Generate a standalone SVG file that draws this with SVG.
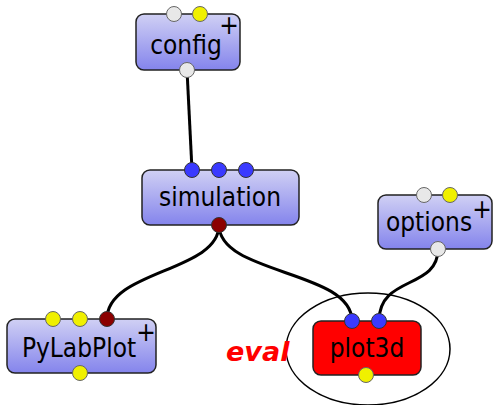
<svg xmlns="http://www.w3.org/2000/svg" width="493" height="405" viewBox="0 0 493 405">
<defs>
<linearGradient id="g" x1="0" y1="0" x2="0" y2="1">
<stop offset="0" stop-color="#d0d0f4"/>
<stop offset="1" stop-color="#8484ec"/>
</linearGradient>
<style>
.box{fill:url(#g);stroke:#222;stroke-width:1.5}
.red{fill:#ff0000;stroke:#222;stroke-width:1.5}
.lbl{font-family:"DejaVu Sans Condensed","DejaVu Sans",sans-serif;font-stretch:condensed;font-size:26px;fill:#000;text-anchor:middle}
.plus{font-family:"DejaVu Sans Condensed","DejaVu Sans",sans-serif;font-stretch:condensed;font-size:26px;fill:#000;text-anchor:middle}
.pg{fill:#e8e8e8;stroke:#666;stroke-width:1}
.py{fill:#f0f000;stroke:#666;stroke-width:1}
.pb{fill:#3a3aff;stroke:#333;stroke-width:1}
.pr{fill:#8b0000;stroke:#333;stroke-width:1}
.wire{fill:none;stroke:#000;stroke-width:3}
</style>
</defs>
<rect width="493" height="405" fill="#fff"/>
<g id="connectors">
<path class="wire" d="M187,70 L192,170"/>
<path class="wire" d="M219,225 C219,272 107,270 107,319"/>
<path class="wire" d="M219,225 C219,275 352,270 352,321"/>
<path class="wire" d="M438,249 C438,290 379,275 379,321"/>
</g>
<g id="config">
<rect class="box" x="136" y="14" width="104" height="56" rx="8"/>
<text class="lbl" x="186" y="54">config</text>
<text class="plus" x="229" y="34">+</text>
<circle class="pg" cx="174" cy="14" r="7.5"/>
<circle class="py" cx="200" cy="14" r="7.5"/>
<circle class="pg" cx="187" cy="70" r="7.5"/>
</g>
<g id="simulation">
<rect class="box" x="142" y="170" width="157" height="55" rx="8"/>
<text class="lbl" x="220" y="206">simulation</text>
<circle class="pb" cx="192" cy="170" r="7.5"/>
<circle class="pb" cx="219" cy="170" r="7.5"/>
<circle class="pb" cx="246" cy="170" r="7.5"/>
<circle class="pr" cx="219" cy="225" r="7.5"/>
</g>
<g id="options">
<rect class="box" x="378" y="195" width="114" height="54" rx="8"/>
<text class="lbl" x="429" y="231">options</text>
<text class="plus" x="482" y="218">+</text>
<circle class="pg" cx="424" cy="195" r="7.5"/>
<circle class="py" cx="450" cy="195" r="7.5"/>
<circle class="pg" cx="438" cy="249" r="7.5"/>
</g>
<g id="PyLabPlot">
<rect class="box" x="7" y="319" width="149" height="54" rx="8"/>
<text class="lbl" x="79" y="357">PyLabPlot</text>
<text class="plus" x="146" y="341">+</text>
<circle class="py" cx="53" cy="319" r="7.5"/>
<circle class="py" cx="80" cy="319" r="7.5"/>
<circle class="pr" cx="107" cy="319" r="7.5"/>
<circle class="py" cx="80" cy="373" r="7.5"/>
</g>
<g id="plot3d">
<ellipse cx="368" cy="349" rx="82" ry="56" fill="none" stroke="#000" stroke-width="1.5"/>
<rect class="red" x="313" y="321" width="108" height="54" rx="8"/>
<text class="lbl" x="367" y="357">plot3d</text>
<circle class="pb" cx="352" cy="321" r="7.5"/>
<circle class="pb" cx="379" cy="321" r="7.5"/>
<circle class="py" cx="366" cy="375" r="7.5"/>
</g>
<text x="226" y="361" font-family="'Comic Sans MS','DejaVu Sans',sans-serif" font-size="27" font-weight="bold" font-style="italic" fill="#ff0000">eval</text>
</svg>
